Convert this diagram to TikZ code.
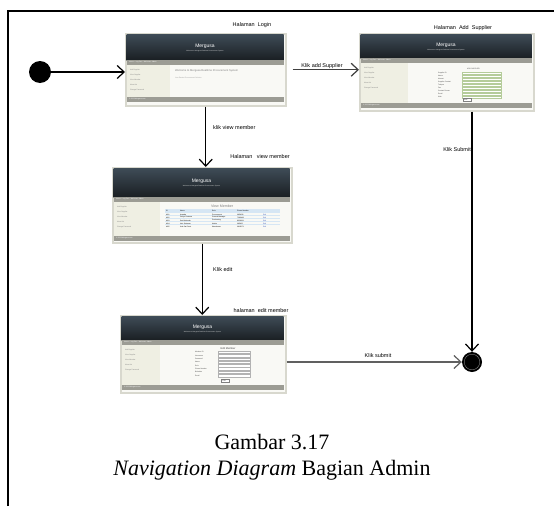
\documentclass[tikz,border=0pt]{standalone}
\usepackage{fontspec}
\setmainfont{Liberation Serif}
\newfontfamily\labfont{Liberation Sans}
\usetikzlibrary{arrows.meta,calc}
\definecolor{shotborder}{HTML}{D8D8CE}
\definecolor{hdrtop}{HTML}{3E4B56}
\definecolor{hdrbot}{HTML}{1A1F23}
\definecolor{navc}{HTML}{9C9C94}
\definecolor{bodyc}{HTML}{F9F9F5}
\definecolor{sidec}{HTML}{EFEFE3}
\definecolor{fieldc}{HTML}{B5CC9A}
\definecolor{thc}{HTML}{D6E6F4}
\definecolor{linkc}{HTML}{3355BB}
\definecolor{conngray}{HTML}{606060}
\tikzset{
  lbl/.style={font=\labfont\fontsize{5.5}{6}\selectfont, inner sep=0},
  tinytxt/.style={font=\labfont\fontsize{1.7}{2}\selectfont, inner sep=0, anchor=west},
  shot/.style={draw=shotborder, line width=1.5pt, fill=bodyc, inner sep=0, anchor=north west},
  arr/.style={line width=1.3pt, -{Straight Barb[length=7pt,width=13pt,line width=1.2pt]}},
  arrgray/.style={arr, draw=conngray, line width=1.8pt},
  field/.style={draw=fieldc, fill=white, line width=0.3pt},
  caption/.style={font=\fontsize{22}{26}\selectfont, inner sep=0, anchor=base}
}
% #1 width, #2 height, #3 header bottom, #4 nav bottom, #5 footer top, #6 sidebar right
\newcommand\mgbase[6]{%
  \fill[top color=hdrtop,bottom color=hdrbot] (1.5,1.5) rectangle ({#1-1.5},#3);
  \fill[navc] (1.5,#3) rectangle ({#1-1.5},#4);
  \fill[bodyc] (1.5,#4) rectangle ({#1-1.5},#5);
  \fill[sidec] (1.5,#4) rectangle (#6,#5);
  \fill[navc] (1.5,#5) rectangle ({#1-1.5},{#5+5});
  \node[font=\labfont\fontsize{5}{5}\selectfont,text=white,inner sep=0] at ({#1/2},{#3*0.45+1}) {Mergusa};
  \node[font=\labfont\fontsize{1.6}{2}\selectfont,text=white!75!gray,inner sep=0] at ({#1/2},{#3*0.45+6}) {Welcome to Mergusa Realtime Procurement System};
  \node[tinytxt,text=white] at (4,{(#3+#4)/2}) {Home :: Log Out :: Welcome, Admin};
  \node[tinytxt,text=white] at (4,{#5+2.5}) {\textcopyright{} 2008 Mergusa.com};
  \foreach \t [count=\i] in {Add Supplier,View Supplier,View Member,About Us,Change Password}
    \node[tinytxt,text=gray] at (5,{#4+\i*5}) {\t};
}
\begin{document}
\begin{tikzpicture}[x=1pt,y=-1pt]
\useasboundingbox[fill=white] (0,0) rectangle (554,506);
% frame
\draw[line width=2pt] (8,506) -- (8,11) -- (554,11);

% ---------- Login ----------
\node[shot,minimum width=160pt,minimum height=72pt] (login) at (125,33) {};
\begin{scope}[shift={(login.north west)}]
  \mgbase{160}{72}{27}{32}{64}{45}
  \node[tinytxt,font=\labfont\fontsize{2.7}{3}\selectfont,text=gray] at (50,38) {Welcome to Mergusa Realtime Procurement System};
  \node[tinytxt,text=gray!80] at (50,45) {Your Easiest Procurement Solution};
\end{scope}

% ---------- Add Supplier ----------
\node[shot,minimum width=174pt,minimum height=77pt] (addsup) at (359,33) {};
\begin{scope}[shift={(addsup.north west)}]
  \mgbase{174}{77}{25}{30}{70}{49}
  \node[tinytxt,text=darkgray] at (108,36) {ADD SUPPLIER};
  \foreach \t [count=\i] in {Supplier ID,Nama,Alamat,Supplier Contact,Telepon,Fax,Contact Person,Email,Web}
  {
    \node[tinytxt,text=darkgray] at (79,{37+\i*3}) {\t};
    \draw[field] (103,{36+\i*3}) rectangle (142,{38.3+\i*3});
  }
  \draw[field,draw=gray] (104,65) rectangle (112,68);
  \node[tinytxt,text=darkgray] at (105,66.5) {Add};
\end{scope}

% ---------- View Member ----------
\node[shot,minimum width=179pt,minimum height=75pt] (view) at (112,167) {};
\begin{scope}[shift={(view.north west)}]
  \mgbase{179}{75}{30}{35}{69}{48}
  \node[font=\labfont\fontsize{3.6}{4}\selectfont,text=gray,inner sep=0] at (110,39) {View Member};
  \fill[thc] (53,42) rectangle (168,45.5);
  \foreach \y in {45.5,48.5,51.5,54.5,57.5} \draw[thc,line width=0.2pt] (53,\y) -- (168,\y);
  \node[tinytxt] at (54,43.8) {ID};
  \node[tinytxt] at (68,43.8) {Name};
  \node[tinytxt] at (100,43.8) {Role};
  \node[tinytxt] at (125,43.8) {Phone Number};
  \foreach \id/\nm/\rl/\ph [count=\i] in {M01/Ananda/Procurement/0856211,M02/Cahyo Pratama/General Manager/7282498,M03/Dedi Nurhuda/Purchasing/8320991,M04/Heri Setiawan/Admin/085622,M05/Ikah Sari Dewi/Warehouse/0815671}
  {
    \node[tinytxt] at (54,{44.5+\i*3}) {\id};
    \node[tinytxt] at (68,{44.5+\i*3}) {\nm};
    \node[tinytxt] at (100,{44.5+\i*3}) {\rl};
    \node[tinytxt] at (125,{44.5+\i*3}) {\ph};
    \node[tinytxt,text=linkc] at (151,{44.5+\i*3}) {Edit};
  }
\end{scope}

% ---------- Edit Member ----------
\node[shot,minimum width=165pt,minimum height=77pt] (edit) at (120,315) {};
\begin{scope}[shift={(edit.north west)}]
  \mgbase{165}{77}{25}{30}{70}{40}
  \node[font=\labfont\fontsize{2.6}{3}\selectfont,text=darkgray,inner sep=0] at (108,34) {Edit Member};
  \foreach \t [count=\i] in {Member ID,Username,Password,Name,Role,Phone Number,Birthdate,Email}
  {
    \node[tinytxt,text=darkgray] at (75,{34+\i*3.3}) {\t};
    \draw[field,draw=gray!60] (98,{32.8+\i*3.3}) rectangle (130,{35.3+\i*3.3});
  }
  \draw[field,draw=gray] (101,64) rectangle (109,67.5);
  \node[tinytxt,text=darkgray] at (102.5,65.8) {Edit};
\end{scope}

% ---------- start / end ----------
\node[circle,fill=black,minimum size=22pt,inner sep=0] (start) at (40,72) {};
\node[circle,fill=black,minimum size=20pt,inner sep=0] (end) at (472,362) {};
\draw[gray,line width=0.4pt] (end.center) circle[radius=7.8pt];

% ---------- connectors ----------
\draw[arr] (start) -- (start -| login.west);
\draw[arr,draw=black!75] ([xshift=6pt]login.east) -- (login.east -| addsup.west);
\draw[arr] (login.south) -- (login.south |- view.north);
\draw[arr] (view.south) -- (view.south |- edit.north);
\draw[arr] (end |- addsup.south) -- (end.north);
\draw[arrgray] (edit.east |- end) -- (end.west);

% ---------- labels ----------
\node[lbl] (lLogin) at (252,25) {Halaman\ \ Login};
\node[lbl] (lAdd) at (463,28) {Halaman\ \ Add\ \ Supplier};
\node[lbl] (lKadd) at (322,66) {Klik add Supplier};
\node[lbl,anchor=west] (lKview) at (213,128) {klik view member};
\node[lbl] (lView) at (260,157) {Halaman\ \ \ view member};
\node[lbl,anchor=west] (lKedit) at (213,270) {Klik edit};
\node[lbl] (lEdit) at (261,311) {halaman\ \ edit member};
\node[lbl,anchor=east] (lKsub) at (471,150) {Klik Submit};
\node[lbl] (lKsub2) at (378,356) {Klik submit};

% ---------- caption ----------
\node[caption] (cap1) at (272,449) {Gambar 3.17};
\node[caption] (cap2) at (272,475) {\textit{Navigation Diagram} Bagian Admin};
\end{tikzpicture}
\end{document}
